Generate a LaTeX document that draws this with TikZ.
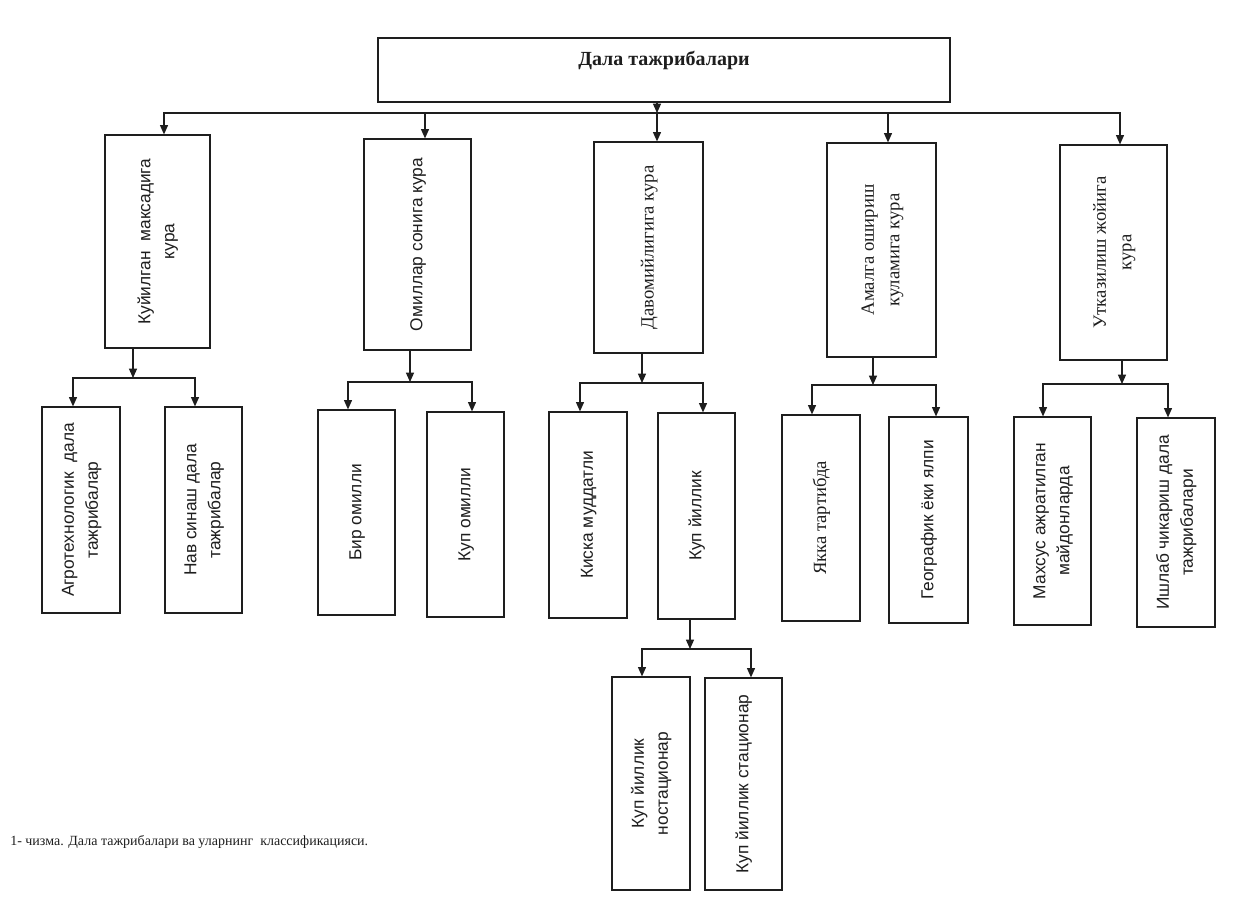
\documentclass[tikz,border=0pt]{standalone}
\usepackage{fontspec}
\setmainfont{Liberation Serif}
\newfontfamily\sansf{Liberation Sans}
\usetikzlibrary{arrows.meta}
\definecolor{ink}{HTML}{1E1E1E}
\newcommand{\vtext}[1]{\rotatebox{90}{\def\arraystretch{1.2}\begin{tabular}{@{}c@{}}#1\end{tabular}}}
% name, style, x1, y1, x2, y2, text
\newcommand{\boxnode}[7]{%
  \pgfmathsetmacro\bw{(#5-#3)*0.75}%
  \pgfmathsetmacro\bh{(#6-#4)*0.75}%
  \pgfmathsetmacro\bx{(#3+#5)/2}%
  \pgfmathsetmacro\by{(#4+#6)/2}%
  \node[box, #2, minimum width=\bw pt, minimum height=\bh pt] (#1) at (\bx,\by) {#7};%
}
\newcommand{\famlink}[7]{%
  \coordinate (#1p) at (#2,#3);
  \coordinate (#1l) at (#4,#3);
  \coordinate (#1r) at (#6,#3);
  \draw[arr] (#1.south -| #1p) -- (#1p);
  \draw[arr] (#1p) -| (#5.north -| #1l);
  \draw[arr] (#1p) -| (#7.north -| #1r);
}
\begin{document}
\begin{tikzpicture}[x=0.75pt,y=-0.75pt,
  box/.style={draw=ink, line width=0.9pt, inner sep=0pt, text=ink},
  arr/.style={draw=ink, line width=0.9pt, -{Triangle[length=7pt,width=6pt]}},
  vsans/.style={font=\sansf\fontsize{13}{15}\selectfont},
  vserif/.style={font=\fontsize{14}{16}\selectfont}]
\fill[white] (0,0) rectangle (1240,900);
\useasboundingbox (0,0) rectangle (1240,900);

% root
\node[box, minimum width=429pt, text height=20.25pt, text depth=27.75pt,
      font=\bfseries\fontsize{15}{18}\selectfont] (top) at (664,70) {Дала тажрибалари};

% level 1
\boxnode{b1}{vsans}{105}{135}{210}{348}{\vtext{Куйилган~ максадига\\кура}}
\boxnode{b2}{vsans}{364}{139}{471}{350}{\vtext{Омиллар сонига кура}}
\boxnode{b3}{vserif}{594}{142}{703}{353}{\vtext{Давомийлигига кура}}
\boxnode{b4}{vserif}{827}{143}{936}{357}{\vtext{Амалга ошириш\\куламига кура}}
\boxnode{b5}{vserif}{1060}{145}{1167}{360}{\vtext{Утказилиш жойига\\кура}}

% level 2
\boxnode{c1}{vsans}{42}{407}{120}{613}{\vtext{Агротехнологик~ дала\\тажрибалар}}
\boxnode{c2}{vsans}{165}{407}{242}{613}{\vtext{Нав синаш дала\\тажрибалар}}
\boxnode{c3}{vsans}{318}{410}{395}{615}{\vtext{Бир омилли}}
\boxnode{c4}{vsans}{427}{412}{504}{617}{\vtext{Куп омилли}}
\boxnode{c5}{vsans}{549}{412}{627}{618}{\vtext{Киска муддатли}}
\boxnode{c6}{vsans}{658}{413}{735}{619}{\vtext{Куп йиллик}}
\boxnode{c7}{vserif}{782}{415}{860}{621}{\vtext{Якка тартибда}}
\boxnode{c8}{vsans}{889}{417}{968}{623}{\vtext{Географик ёки ялпи}}
\boxnode{c9}{vsans}{1014}{417}{1091}{625}{\vtext{Махсус ажратилган\\майдонларда}}
\boxnode{c10}{vsans}{1137}{418}{1215}{627}{\vtext{Ишлаб чикариш дала\\тажрибалари}}

% level 3
\boxnode{d1}{vsans}{612}{677}{690}{890}{\vtext{Куп йиллик\\ностационар}}
\boxnode{d2}{vsans}{705}{678}{782}{890}{\vtext{Куп йиллик стационар}}

% caption
\node[anchor=base west, inner sep=0pt, text=ink, font=\fontsize{10.5}{12}\selectfont] (cap) at (10,845)
  {1- чизма. Дала тажрибалари ва уларнинг~ классификацияси.};

% root connectors
\coordinate (m0) at (657,113);
\coordinate (m1) at (164,113);
\coordinate (m2) at (425,113);
\coordinate (m4) at (888,113);
\coordinate (m5) at (1120,113);
\draw[arr] (top.south -| m0) -- (m0);
\draw[arr] (m0) -| (b1.north -| m1);
\draw[arr] (m0) -| (b5.north -| m5);
\draw[arr] (m2) -- (b2.north -| m2);
\draw[arr] (m0) -- (b3.north -| m0);
\draw[arr] (m4) -- (b4.north -| m4);

% families
\famlink{b1}{133}{378}{73}{c1}{195}{c2}
\famlink{b2}{410}{382}{348}{c3}{472}{c4}
\famlink{b3}{642}{383}{580}{c5}{703}{c6}
\famlink{b4}{873}{385}{812}{c7}{936}{c8}
\famlink{b5}{1122}{384}{1043}{c9}{1168}{c10}
\famlink{c6}{690}{649}{642}{d1}{751}{d2}
\end{tikzpicture}
\end{document}
